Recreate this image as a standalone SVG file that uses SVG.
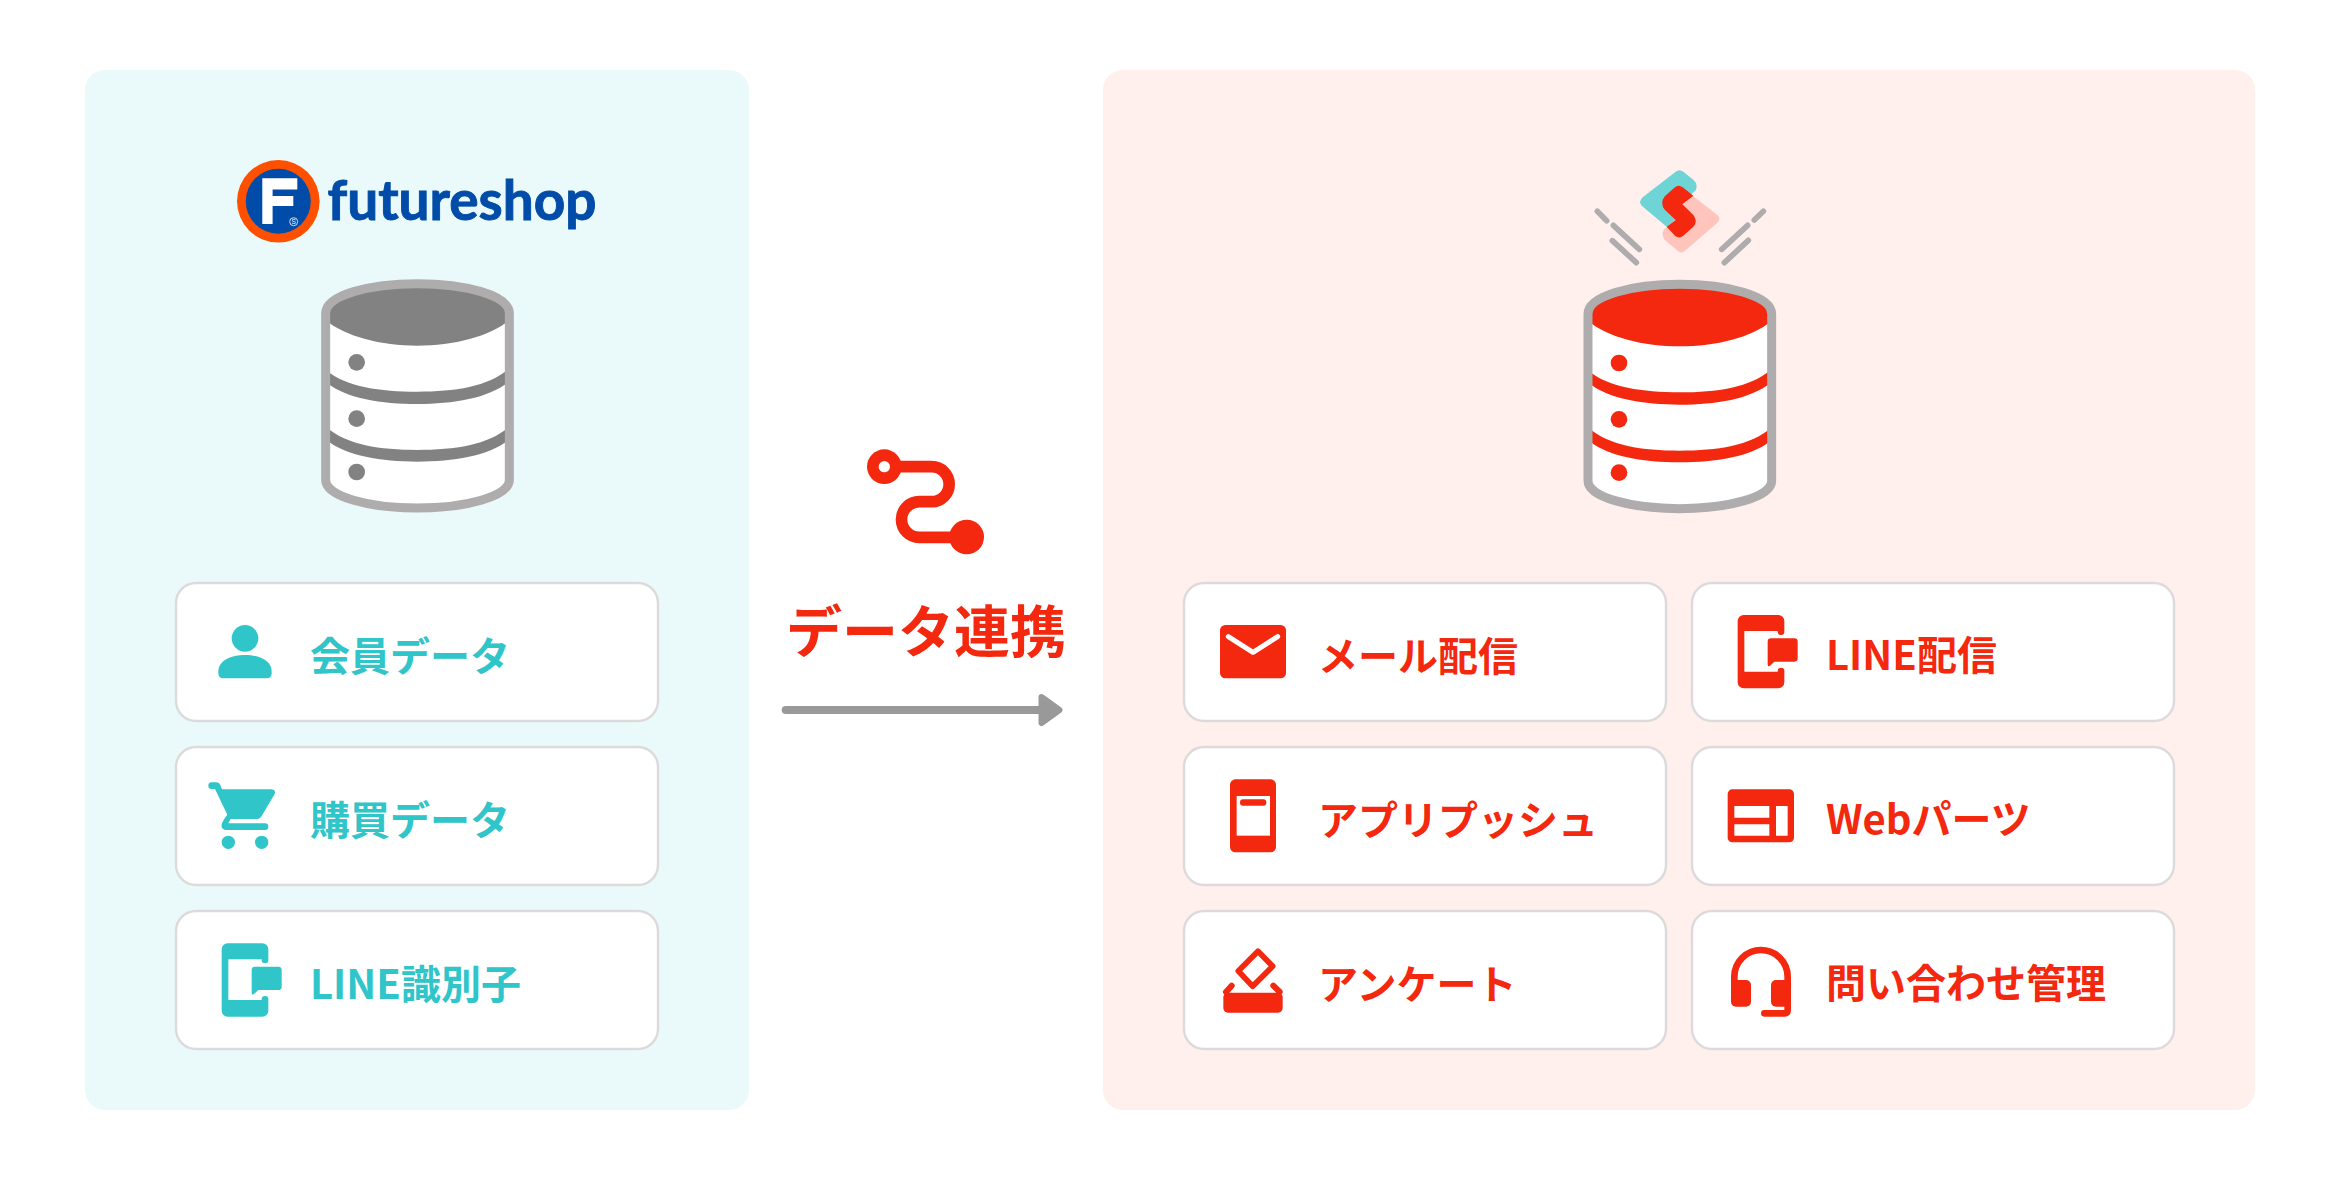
<svg xmlns="http://www.w3.org/2000/svg" width="2340" height="1180" viewBox="0 0 2340 1180">
<style>
text{font-family:"Noto Sans CJK JP","Noto Sans",sans-serif;font-weight:700}
.card{fill:#fff;stroke:#dcdada;stroke-width:2.4}
.lab{font-size:40px}
.teal{fill:#30c5c9}
.red{fill:#f3280f}
.dash{stroke:#aeacac;stroke-width:17;stroke-linecap:round;fill:none}
</style>
<defs>
<g id="db">
<path d="M377 550C377 495 510 461 652 461S928 495 928 550V1050C928 1100 795 1134 652 1134S377 1100 377 1050Z" fill="#fff"/>
<path d="M377 570V545C400 495 510 465 652 465S900 495 928 545V570C870 620 760 647 652 647S435 620 377 570Z"/>
<path d="M380 722C440 770 540 785 652 785S865 770 925 717V756C865 805 760 822 652 822S440 805 380 758Z"/>
<path d="M380 892C440 945 540 960 652 960S865 945 925 892V931C865 978 760 995 652 995S440 978 380 931Z"/>
<circle cx="470" cy="697" r="25"/><circle cx="470" cy="866" r="25"/><circle cx="470" cy="1026" r="25"/>
<path d="M377 550C377 495 510 461 652 461S928 495 928 550V1050C928 1100 795 1134 652 1134S377 1100 377 1050Z" fill="none" stroke="#aeacac" stroke-width="27"/>
</g>
<g id="phone">
<path d="M18 0H122a18 18 0 0 1 18 18V50a10 10 0 0 1-20 0V48H20V170H120V168a10 10 0 0 1 20 0V202a18 18 0 0 1-18 18H18a18 18 0 0 1-18-18V18a18 18 0 0 1 18-18Z"/>
<path d="M100 70H170a10 10 0 0 1 10 10V130a10 10 0 0 1-10 10H110L96 153q-6 2-6-4V80a10 10 0 0 1 10-10Z"/>
</g>
</defs>
<rect width="2340" height="1180" fill="#fff"/>
<g id="panel-left"><rect x="85" y="70" width="664" height="1040" rx="20" fill="#eafafb"/></g>
<g id="panel-right"><rect x="1103" y="70" width="1152" height="1040" rx="20" fill="#fff0ed"/></g>

<g id="logo-futureshop">
<circle cx="278.3" cy="201.3" r="41.3" fill="#ff5000"/>
<circle cx="278.3" cy="201.3" r="32.5" fill="#004ca8"/>
<path d="M262.3 178.3H297.3V189.6H272.6V196H293.3V206H272.6V224H262.3Z" fill="#fff"/>
<circle cx="293.7" cy="221.7" r="4" fill="none" stroke="#fff" stroke-width=".8"/>
<text x="293.7" y="224" font-size="6.5" fill="#fff" text-anchor="middle" style="font-family:'Liberation Sans',sans-serif;font-weight:400">S</text>
<text x="327.5" y="220" font-size="55" fill="#004ca8" stroke="#004ca8" stroke-width=".9" textLength="269" lengthAdjust="spacingAndGlyphs" style="font-family:Lato,'Noto Sans',sans-serif;font-weight:700">futureshop</text>
</g>

<g id="db-left" fill="#828282" transform="translate(200 130) scale(.33333)"><use href="#db"/></g>
<g id="db-right" fill="#f3280f" transform="translate(1462.33 130.67) scale(.33333)"><use href="#db"/></g>

<g id="spark-logo">
<g transform="translate(1630 160) scale(.33333)">
<path d="M140 33Q150 27 160 35L188 58Q205 72 198 90L170 115L135 180L110 200L36 138Q24 125 38 112Z" fill="#6fd4d6"/>
<path d="M262 165Q274 175 262 188L165 272Q155 282 145 274L112 247Q90 228 102 208L140 180L155 130L185 105Z" fill="#ffc4bb"/>
<path class="red" d="M135 82Q145 72 158 82L190 107L157 133L190 165Q205 185 190 200L160 227Q148 238 135 227L110 200L137 180L105 150Q88 130 105 108Z"/>
</g>
<path class="dash" transform="translate(1540 150) scale(.33333)" d="M172 184L200 212M220 226L298 298M217 272L289 338M670 184L643 210M623 226L545 298M625 271L553 338"/>
</g>

<g id="data-link">
<g transform="translate(760 430) scale(.33333)">
<path d="M373 110H515a52.5 52.5 0 0 1 0 105H478a53.5 53.5 0 0 0 0 107H620" fill="none" stroke="#f3280f" stroke-width="35"/>
<circle cx="373" cy="110" r="52" class="red"/><circle cx="373" cy="110" r="17" fill="#fff"/>
<circle cx="620" cy="321" r="52" class="red"/>
</g>
<text x="786" y="652" font-size="56" class="red">データ連携</text>
</g>

<g id="connectors">
<path d="M785.7 710H1040" stroke="#999" stroke-width="8" stroke-linecap="round" fill="none"/>
<path d="M1041.5 697L1059.5 710L1041.5 723Z" fill="#999" stroke="#999" stroke-width="6" stroke-linejoin="round"/>
</g>

<g id="card-member">
<rect class="card" x="176" y="583" width="482" height="138" rx="20"/>
<g class="teal" transform="translate(170 570) scale(.33333)">
<circle cx="225" cy="205" r="40"/>
<path d="M145 305C145 270 185 255 225 255S305 270 305 305V310Q305 325 290 325H160Q145 325 145 310Z"/>
</g>
<text class="lab teal" x="310" y="671">会員データ</text>
</g>

<g id="card-purchase">
<rect class="card" x="176" y="747" width="482" height="138" rx="20"/>
<g class="teal" transform="translate(170 570) scale(.33333)">
<path d="M125 637H140Q148 637 151 645L156 658H305Q318 660 314 672L275 738Q270 747 260 747H182L175 760H285Q295 760 295 770T285 780H170Q152 780 155 762Q158 752 172 734L135 657H125Q115 657 115 647T125 637Z"/>
<circle cx="175" cy="817" r="20"/><circle cx="275" cy="817" r="20"/>
</g>
<text class="lab teal" x="310" y="835">購買データ</text>
</g>

<g id="card-line-id">
<rect class="card" x="176" y="911" width="482" height="138" rx="20"/>
<use href="#phone" class="teal" transform="translate(221.67 943.33) scale(.33333)"/>
<text class="lab teal" x="310" y="999">LINE識別子</text>
</g>

<g id="card-mail">
<rect class="card" x="1184" y="583" width="482" height="138" rx="20"/>
<g transform="translate(1180 570) scale(.33333)">
<rect class="red" x="120" y="165" width="198" height="160" rx="16"/>
<path d="M145 200L219 247L293 200" fill="none" stroke="#fff" stroke-width="15" stroke-linecap="round" stroke-linejoin="round"/>
</g>
<text class="lab red" x="1318" y="671">メール配信</text>
</g>

<g id="card-app">
<rect class="card" x="1184" y="747" width="482" height="138" rx="20"/>
<g transform="translate(1180 570) scale(.33333)">
<rect class="red" x="150" y="628" width="138" height="219" rx="16"/>
<rect x="170" y="678" width="100" height="119" fill="#fff"/>
<rect class="red" x="180" y="688" width="79" height="19" rx="9"/>
</g>
<text class="lab red" x="1318" y="835">アプリプッシュ</text>
</g>

<g id="card-survey">
<rect class="card" x="1184" y="911" width="482" height="138" rx="20"/>
<g transform="translate(1180 570) scale(.33333)">
<path d="M234 1144L278 1189L218 1249L175 1203Z" fill="#fff" stroke="#f3280f" stroke-width="17" stroke-linejoin="round"/>
<rect class="red" x="130" y="1268" width="178" height="60" rx="14"/>
<path d="M155 1247L138 1266M280 1247L299 1266" stroke="#f3280f" stroke-width="18" stroke-linecap="round"/>
</g>
<text class="lab red" x="1318" y="999">アンケート</text>
</g>

<g id="card-line">
<rect class="card" x="1692" y="583" width="482" height="138" rx="20"/>
<use href="#phone" class="red" transform="translate(1737.67 615) scale(.33333)"/>
<text class="lab red" x="1826" y="670">LINE配信</text>
</g>

<g id="card-web">
<rect class="card" x="1692" y="747" width="482" height="138" rx="20"/>
<g transform="translate(1680 570) scale(.33333)">
<rect class="red" x="143" y="658" width="199" height="159" rx="14"/>
<path fill="#fff" d="M163 708H268V743H163ZM163 763H268V797H163ZM288 708H323V797H288Z"/>
</g>
<text class="lab red" x="1826" y="834">Webパーツ</text>
</g>

<g id="card-contact">
<rect class="card" x="1692" y="911" width="482" height="138" rx="20"/>
<g transform="translate(1680 570) scale(.33333)">
<path d="M163 1250V1220a80 80 0 0 1 160 0V1320q0 10-10 10H253" fill="none" stroke="#f3280f" stroke-width="20" stroke-linecap="round"/>
<rect class="red" x="153" y="1230" width="60" height="80" rx="15"/>
<rect class="red" x="273" y="1230" width="55" height="80" rx="15"/>
</g>
<text class="lab red" x="1826" y="998">問い合わせ管理</text>
</g>
</svg>
